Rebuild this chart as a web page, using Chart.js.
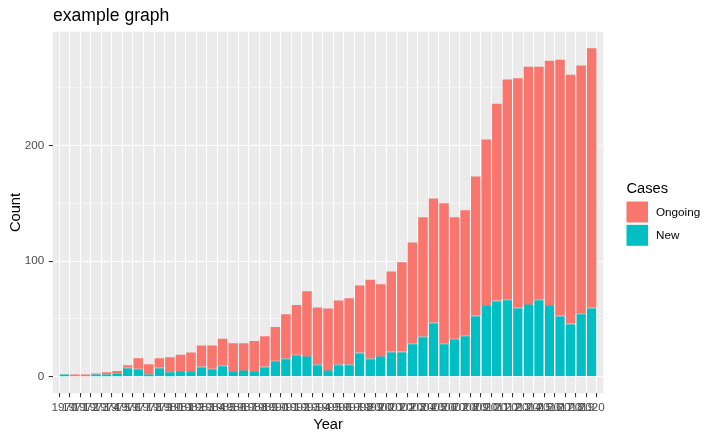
<!DOCTYPE html>
<html lang="en">
<head>
  <meta charset="UTF-8" />
  <title>example graph</title>
  <script src="https://cdn.jsdelivr.net/npm/chart.js"></script>
  <style>
    body {
      margin: 0;
      background: #fff;
    }
    #grafico {
      display: block;
    }
  </style>
</head>
<body>
  <canvas id="grafico" width="718" height="439"></canvas>

  <script>
    const years = [
      1970, 1971, 1972, 1973, 1974, 1975, 1976, 1977, 1978, 1979,
      1980, 1981, 1982, 1983, 1984, 1985, 1986, 1987, 1988, 1989,
      1990, 1991, 1992, 1993, 1994, 1995, 1996, 1997, 1998, 1999,
      2000, 2001, 2002, 2003, 2004, 2005, 2006, 2007, 2008, 2009,
      2010, 2011, 2012, 2013, 2014, 2015, 2016, 2017, 2018, 2019, 2020
    ];
    const newCases = [
      2, 0, 0, 2, 2, 3, 8, 7, 2, 8,
      4, 5, 5, 9, 7, 10, 5, 6, 5, 9,
      14, 16, 19, 18, 11, 6, 11, 11, 21, 16,
      18, 22, 22, 29, 35, 47, 29, 33, 36, 53,
      62, 66, 67, 60, 63, 67, 62, 53, 46, 55, 60
    ];
    const ongoingCases = [
      0, 2, 2, 1, 2, 2, 2, 9, 9, 8,
      13, 14, 16, 18, 20, 23, 24, 23, 26, 26,
      29, 38, 43, 56, 49, 53, 55, 57, 58, 68,
      62, 69, 77, 87, 103, 107, 121, 105, 108, 120,
      143, 170, 190, 198, 205, 201, 211, 221, 215, 214, 224
    ];
    const yTicks = [0, 50, 100, 150, 200, 250];
    const legendItems = ['Ongoing', 'New'];

    const colOngoing = '#F8766D';
    const colNew = '#00BFC4';
    const fuente = '"Liberation Sans", Arial, sans-serif';

    // fondo gris del panel, titulos y leyenda al estilo ggplot
    const ggPlugin = {
      id: 'gg',
      beforeDraw(chart) {
        const { ctx, chartArea: a } = chart;
        ctx.save();
        ctx.fillStyle = '#fff';
        ctx.fillRect(0, 0, chart.width, chart.height);
        ctx.fillStyle = '#EBEBEB';
        ctx.fillRect(a.left, a.top, a.right - a.left, a.bottom - a.top);
        ctx.restore();
      },
      afterDraw(chart) {
        const { ctx, chartArea: a } = chart;
        ctx.save();
        ctx.fillStyle = '#000';

        ctx.font = '17.6px ' + fuente;
        ctx.textAlign = 'left';
        ctx.textBaseline = 'alphabetic';
        ctx.fillText('example graph', 53, 21);

        ctx.font = '14.7px ' + fuente;
        ctx.textAlign = 'center';
        ctx.fillText('Year', (a.left + a.right) / 2, 428.5);

        ctx.save();
        ctx.translate(19.5, (a.top + a.bottom) / 2);
        ctx.rotate(-Math.PI / 2);
        ctx.fillText('Count', 0, 0);
        ctx.restore();

        ctx.textAlign = 'left';
        ctx.fillText('Cases', 626.5, 193);

        const colores = [colOngoing, colNew];
        ctx.font = '11.7px ' + fuente;
        ctx.textBaseline = 'middle';
        legendItems.forEach((txt, i) => {
          const y = 201.5 + i * 23.3;
          ctx.fillStyle = colores[i];
          ctx.fillRect(626.5, y, 21.5, 21);
          ctx.fillStyle = '#000';
          ctx.fillText(txt, 656, y + 11);
        });
        ctx.restore();
      }
    };

    const ctx = document.getElementById('grafico').getContext('2d');

    new Chart(ctx, {
      type: 'bar',
      data: {
        datasets: [
          {
            label: 'New',
            data: years.map((y, i) => ({ x: y, y: newCases[i] })),
            backgroundColor: colNew,
            // linea gris fina encima del azul, como en la imagen
            borderColor: c => (newCases[c.dataIndex] > 4 && ongoingCases[c.dataIndex] > 0 ? '#7F9E9E' : colNew),
            borderWidth: c => (newCases[c.dataIndex] > 4 ? { top: 1, left: 0, right: 0, bottom: 0 } : 0),
            borderSkipped: false,
            barPercentage: 0.9,
            categoryPercentage: 1
          },
          {
            label: 'Ongoing',
            data: years.map((y, i) => ({ x: y, y: ongoingCases[i] })),
            backgroundColor: colOngoing,
            borderWidth: 0,
            barPercentage: 0.9,
            categoryPercentage: 1
          }
        ]
      },
      options: {
        responsive: false,
        devicePixelRatio: 1,
        animation: false,
        layout: {
          padding: { top: 31.7, right: 114.6, left: 0, bottom: 0 }
        },
        plugins: {
          legend: { display: false },
          title: { display: false },
          tooltip: { enabled: false }
        },
        scales: {
          x: {
            type: 'linear',
            stacked: true,
            min: 1969.4,
            max: 2020.6,
            afterBuildTicks: s => { s.ticks = years.map(v => ({ value: v })); },
            afterFit: s => { s.height = 45.7; },
            border: { display: false },
            grid: {
              color: '#fff',
              lineWidth: 1.07,
              tickLength: 4,
              tickColor: '#333333',
              tickWidth: 1.07
            },
            ticks: {
              autoSkip: false,
              maxRotation: 0,
              minRotation: 0,
              padding: 3.5,
              color: '#4D4D4D',
              font: { family: fuente, size: 11.7 },
              callback: v => String(v)
            }
          },
          y: {
            stacked: true,
            min: -14.2,
            max: 298.2,
            afterBuildTicks: s => { s.ticks = yTicks.map(v => ({ value: v })); },
            afterFit: s => { s.width = 52.7; },
            border: { display: false },
            grid: {
              color: '#fff',
              lineWidth: c => (c.tick && c.tick.value % 100 === 0 ? 1.07 : 0.53),
              tickLength: 4,
              tickColor: c => (c.tick && c.tick.value % 100 === 0 ? '#333333' : 'rgba(0,0,0,0)'),
              tickWidth: 1.07
            },
            ticks: {
              padding: 4.4,
              color: '#4D4D4D',
              font: { family: fuente, size: 11.7 },
              callback: v => (v % 100 === 0 ? String(v) : '')
            }
          }
        }
      },
      plugins: [ggPlugin]
    });
  </script>
</body>
</html>
